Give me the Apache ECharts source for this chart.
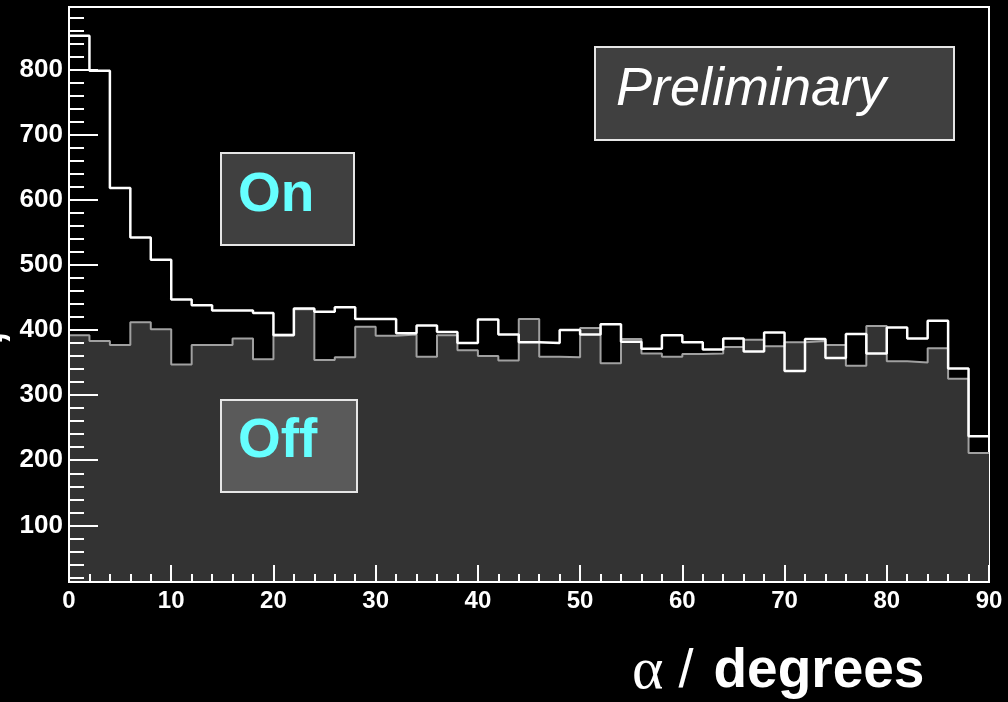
<!DOCTYPE html>
<html>
<head>
<meta charset="utf-8">
<script src="https://cdn.jsdelivr.net/npm/echarts@6/dist/echarts.min.js"></script>
<style>
html,body{margin:0;padding:0;background:#000;}
#chart{width:1008px;height:702px;}
</style>
</head>
<body>
<div id="chart"></div>
<script>
// bin lower edges (degrees), bin width 2
var binStart = [0,2,4,6,8,10,12,14,16,18,20,22,24,26,28,30,32,34,36,38,40,42,44,46,48,50,52,54,56,58,60,62,64,66,68,70,72,74,76,78,80,82,84,86,88];
var binEndLast = 90;
// On-source counts
var onCounts = [852,798,618,542,508,447,438,430,430,426,392,433,428,435,417,417,395,407,397,380,416,393,381,380,400,393,409,382,371,392,381,370,387,367,396,337,386,357,394,364,404,387,414,341,237];
// Off-source counts
var offCounts = [392,383,377,412,401,347,377,377,387,355,393,432,354,358,405,391,393,359,392,369,360,353,417,359,358,403,349,386,364,359,363,364,374,385,375,381,383,377,345,406,352,350,372,325,211];
// tick labels
var xTickLabels = [0,10,20,30,40,50,60,70,80,90];
var yTickLabels = [100,200,300,400,500,600,700,800];
var yMinorTicks = [20,40,60,80,120,140,160,180,220,240,260,280,320,340,360,380,420,440,460,480,520,540,560,580,620,640,660,680,720,740,760,780,820,840,860,880];
var yMin = 13, yMax = 896;

function toSteps(counts){
  var d = binStart.map(function(x,i){return [x, counts[i]];});
  d.push([binEndLast, counts[counts.length-1]]);
  return d;
}

var chart = echarts.init(document.getElementById('chart'), null, {renderer:'canvas'});
var option = {
  backgroundColor: '#000',
  animation: false,
  grid: {left: 69, top: 7, right: 19, bottom: 120, show: true, borderColor: '#fff', borderWidth: 2, backgroundColor: '#000'},
  xAxis: {
    type: 'value', min: 0, max: 90, interval: 10, z: 20,
    axisLine: {show: true, lineStyle: {color: '#fff', width: 2}},
    axisTick: {show: true, inside: true, length: 17, lineStyle: {color: '#fff', width: 2}},
    minorTick: {show: true, splitNumber: 5, length: 8, lineStyle: {color: '#fff', width: 2}},
    splitLine: {show: false},
    axisLabel: {color: '#fff', fontFamily: 'Liberation Sans', fontWeight: 'bold', fontSize: 24, margin: 7,
      customValues: xTickLabels}
  },
  yAxis: [{
    type: 'value', min: yMin, max: yMax, z: 20,
    axisLine: {show: true, lineStyle: {color: '#fff', width: 2}},
    axisTick: {show: true, inside: true, length: 29, lineStyle: {color: '#fff', width: 2}, customValues: yTickLabels},
    splitLine: {show: false},
    axisLabel: {color: '#fff', fontFamily: 'Liberation Sans', fontWeight: 'bold', fontSize: 26, margin: 6,
      customValues: yTickLabels}
  },{
    type: 'value', min: yMin, max: yMax, position: 'left', z: 20,
    axisLine: {show: false},
    axisTick: {show: true, inside: true, length: 15, lineStyle: {color: '#fff', width: 2}, customValues: yMinorTicks},
    splitLine: {show: false},
    axisLabel: {show: false}
  }],
  series: [{
    name: 'Off', type: 'line', step: 'end', data: toSteps(offCounts),
    showSymbol: false, symbol: 'none', z: 2,
    lineStyle: {color: '#a0a0a0', width: 2},
    areaStyle: {color: '#333333', opacity: 1}
  },{
    name: 'On', type: 'line', step: 'end', data: toSteps(onCounts),
    showSymbol: false, symbol: 'none', z: 3,
    lineStyle: {color: '#ffffff', width: 2.5}
  }],
  graphic: [
    {type: 'rect', z: 10, shape: {x: 595, y: 47, width: 359, height: 93}, style: {fill: '#404040', stroke: '#e6e6e6', lineWidth: 2}},
    {type: 'text', z: 11, x: 616, y: 90, style: {text: 'Preliminary', fill: '#fff', font: 'italic 54px "Liberation Sans"', textVerticalAlign: 'middle'}},
    {type: 'rect', z: 10, shape: {x: 221, y: 153, width: 133, height: 92}, style: {fill: '#404040', stroke: '#e6e6e6', lineWidth: 2}},
    {type: 'text', z: 11, x: 238, y: 196, style: {text: 'On', fill: '#66ffff', font: 'bold 55px "Liberation Sans"', textVerticalAlign: 'middle'}},
    {type: 'rect', z: 10, shape: {x: 221, y: 400, width: 136, height: 92}, style: {fill: '#5a5a5a', stroke: '#e6e6e6', lineWidth: 2}},
    {type: 'text', z: 11, x: 238, y: 442, style: {text: 'Off', fill: '#66ffff', font: 'bold 55px "Liberation Sans"', textVerticalAlign: 'middle'}},
    {type: 'text', z: 11, x: 632, y: 672, style: {
      text: '{a|α }{b|/}{s|  }{c|degrees}', textVerticalAlign: 'middle',
      rich: {
        a: {fill: '#fff', font: '60px "Liberation Serif"'},
        b: {fill: '#fff', font: '54px "Liberation Sans"'},
        s: {fill: '#fff', font: '36px "Liberation Sans"'},
        c: {fill: '#fff', font: 'bold 55px "Liberation Sans"'}
      }}},
    {type: 'text', z: 11, x: -12, y: 338, rotation: Math.PI/2, style: {text: ',', fill: '#fff', font: 'bold 50px "Liberation Sans"', textAlign: 'center', textVerticalAlign: 'middle'}}
  ]
};
chart.setOption(option);
</script>
</body>
</html>
